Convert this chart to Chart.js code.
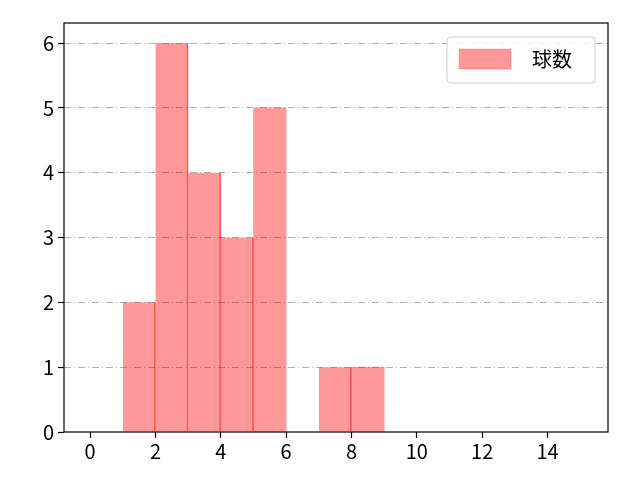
<!DOCTYPE html>
<html>
<head>
<meta charset="utf-8">
<script src="https://cdn.jsdelivr.net/npm/chart.js@4/dist/chart.umd.min.js"></script>
<style>
  html, body { margin: 0; padding: 0; background: #fff; }
  #wrap { width: 640px; height: 480px; }
</style>
</head>
<body>
<div id="wrap"><canvas id="c" width="640" height="480"></canvas></div>
<script>
// histogram bins (left edges), width 1
var binStarts = [1, 2, 3, 4, 5, 6, 7, 8];
var counts = [2, 6, 4, 3, 5, 0, 1, 1];
var xTicks = [0, 2, 4, 6, 8, 10, 12, 14];
var yTicks = [0, 1, 2, 3, 4, 5, 6];
var seriesName = "球数";

var FONT = "'Noto Sans CJK JP', 'Noto Sans', sans-serif";

var points = binStarts.map(function (b, i) {
    return { x: b + 0.5, y: counts[i] };
});

var framePlugin = {
    id: 'frame',
    afterDraw: function (chart) {
        var ctx = chart.ctx, a = chart.chartArea;
        ctx.save();
        ctx.strokeStyle = '#000';
        ctx.lineWidth = 1.2;
        ctx.strokeRect(a.left, a.top, a.right - a.left, a.bottom - a.top);

        // legend box
        var lx = 447, ly = 37, lw = 148, lh = 46, r = 4;
        ctx.fillStyle = 'rgba(255,255,255,0.8)';
        ctx.strokeStyle = '#cccccc';
        ctx.lineWidth = 1;
        ctx.beginPath();
        ctx.moveTo(lx + r, ly);
        ctx.lineTo(lx + lw - r, ly);
        ctx.quadraticCurveTo(lx + lw, ly, lx + lw, ly + r);
        ctx.lineTo(lx + lw, ly + lh - r);
        ctx.quadraticCurveTo(lx + lw, ly + lh, lx + lw - r, ly + lh);
        ctx.lineTo(lx + r, ly + lh);
        ctx.quadraticCurveTo(lx, ly + lh, lx, ly + lh - r);
        ctx.lineTo(lx, ly + r);
        ctx.quadraticCurveTo(lx, ly, lx + r, ly);
        ctx.closePath();
        ctx.fill();
        ctx.stroke();
        ctx.fillStyle = 'rgba(255,0,0,0.4)';
        ctx.fillRect(459, 49, 52, 20);
        ctx.strokeStyle = 'rgba(255,0,0,0.2)';
        ctx.strokeRect(459, 49, 52, 20);
        ctx.fillStyle = '#000';
        ctx.font = '20px ' + FONT;
        ctx.textBaseline = 'middle';
        ctx.fillText(seriesName, 532, 59);
        ctx.restore();
    }
};

new Chart(document.getElementById('c'), {
    type: 'bar',
    data: {
        datasets: [{
            label: seriesName,
            data: points,
            backgroundColor: 'rgba(255,0,0,0.4)',
            borderColor: 'rgba(255,0,0,0.6)',
            borderWidth: function (c) {
                var next = counts[c.dataIndex + 1];
                return { top: 0, left: 0, bottom: 0, right: next > 0 ? 1 : 0 };
            },
            barPercentage: 1,
            categoryPercentage: 1,
            grouped: false
        }]
    },
    options: {
        responsive: false,
        animation: false,
        layout: { padding: { top: 23, right: 32, left: 0, bottom: 0 } },
        plugins: { legend: { display: false }, tooltip: { enabled: false } },
        scales: {
            x: {
                type: 'linear',
                min: -0.8,
                max: 15.85,
                offset: false,
                afterBuildTicks: function (s) {
                    s.ticks = xTicks.map(function (v) { return { value: v }; });
                },
                afterFit: function (s) { s.height = 48; },
                grid: { display: true, offset: false, drawOnChartArea: false, drawTicks: true, tickLength: 6, color: '#000', tickWidth: 1.2 },
                border: { display: false },
                ticks: { color: '#000', font: { family: FONT, size: 20 }, padding: 1, maxRotation: 0 }
            },
            y: {
                min: 0,
                max: 6.31,
                afterBuildTicks: function (s) {
                    s.ticks = yTicks.map(function (v) { return { value: v }; });
                },
                afterFit: function (s) { s.width = 64; },
                grid: {
                    color: function (c) { return c.tick && c.tick.value === 0 ? 'rgba(0,0,0,0)' : '#b0b0b0'; },
                    tickColor: '#000',
                    tickLength: 6,
                    tickWidth: 1.2,
                    lineWidth: 1
                },
                border: { display: false, dash: [7, 3, 1, 3] },
                ticks: { color: '#000', font: { family: FONT, size: 20 }, padding: 4 }
            }
        }
    },
    plugins: [framePlugin]
});
</script>
</body>
</html>
